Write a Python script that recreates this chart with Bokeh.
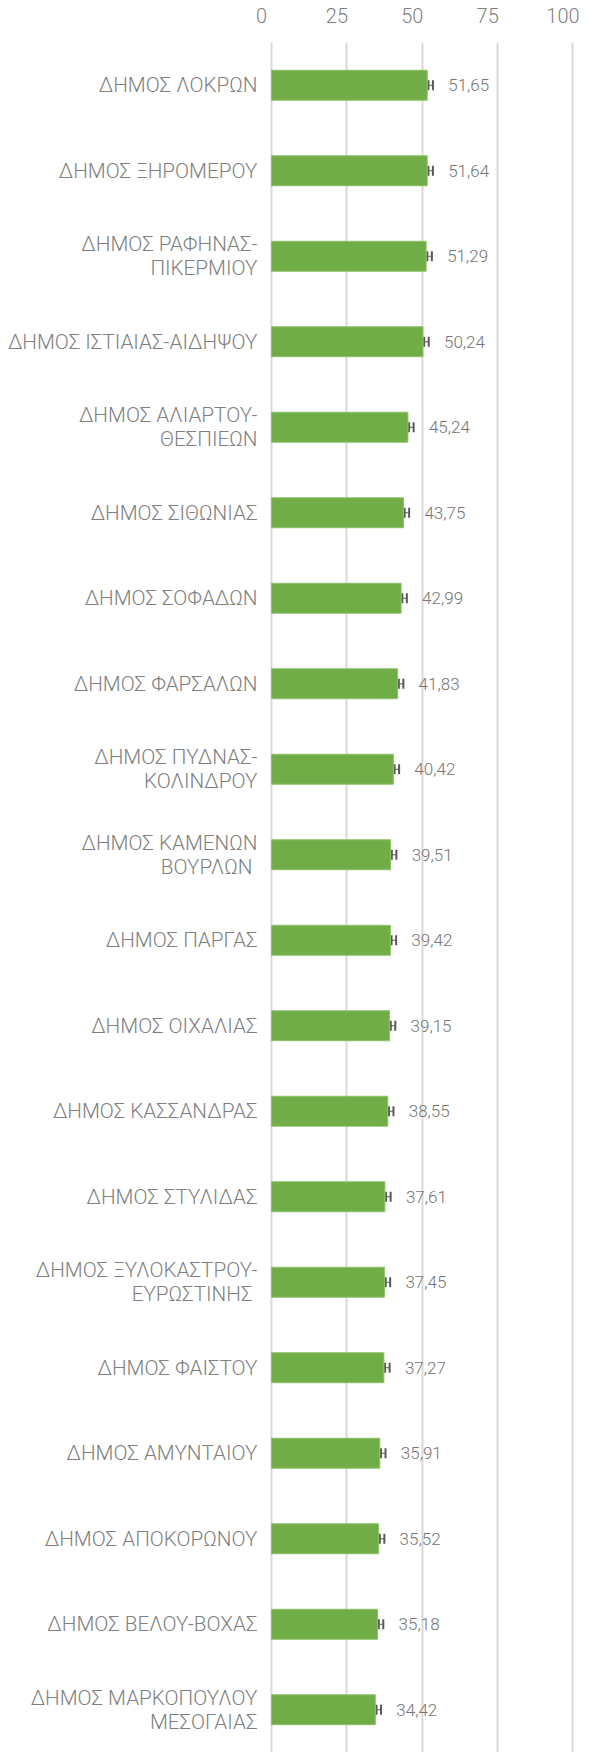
from bokeh.plotting import figure
from bokeh.models import (ColumnDataSource, FactorRange, Range1d, LinearAxis,
                          FixedTicker, Whisker, TeeHead)
from bokeh.core.properties import value
from bokeh.embed import file_html
from bokeh.resources import INLINE

categories = [
    "ΔΗΜΟΣ ΛΟΚΡΩΝ",
    "ΔΗΜΟΣ ΞΗΡΟΜΕΡΟΥ",
    "ΔΗΜΟΣ ΡΑΦΗΝΑΣ-\nΠΙΚΕΡΜΙΟΥ",
    "ΔΗΜΟΣ ΙΣΤΙΑΙΑΣ-ΑΙΔΗΨΟΥ",
    "ΔΗΜΟΣ ΑΛΙΑΡΤΟΥ-\nΘΕΣΠΙΕΩΝ",
    "ΔΗΜΟΣ ΣΙΘΩΝΙΑΣ",
    "ΔΗΜΟΣ ΣΟΦΑΔΩΝ",
    "ΔΗΜΟΣ ΦΑΡΣΑΛΩΝ",
    "ΔΗΜΟΣ ΠΥΔΝΑΣ-\nΚΟΛΙΝΔΡΟΥ",
    "ΔΗΜΟΣ ΚΑΜΕΝΩΝ\nΒΟΥΡΛΩΝ ",
    "ΔΗΜΟΣ ΠΑΡΓΑΣ",
    "ΔΗΜΟΣ ΟΙΧΑΛΙΑΣ",
    "ΔΗΜΟΣ ΚΑΣΣΑΝΔΡΑΣ",
    "ΔΗΜΟΣ ΣΤΥΛΙΔΑΣ",
    "ΔΗΜΟΣ ΞΥΛΟΚΑΣΤΡΟΥ-\nΕΥΡΩΣΤΙΝΗΣ ",
    "ΔΗΜΟΣ ΦΑΙΣΤΟΥ",
    "ΔΗΜΟΣ ΑΜΥΝΤΑΙΟΥ",
    "ΔΗΜΟΣ ΑΠΟΚΟΡΩΝΟΥ",
    "ΔΗΜΟΣ ΒΕΛΟΥ-ΒΟΧΑΣ",
    "ΔΗΜΟΣ ΜΑΡΚΟΠΟΥΛΟΥ\nΜΕΣΟΓΑΙΑΣ",
]
values = [51.65, 51.64, 51.29, 50.24, 45.24, 43.75, 42.99, 41.83, 40.42, 39.51,
          39.42, 39.15, 38.55, 37.61, 37.45, 37.27, 35.91, 35.52, 35.18, 34.42]
err_low = [0.4] * len(values)
err_high = [1.9] * len(values)
x_ticks = [0, 25, 50, 75, 100]

labels = [f"{v:.2f}".replace(".", ",") for v in values]

src = ColumnDataSource(dict(
    cat=categories, val=values, lbl=labels,
    lo=[v + a for v, a in zip(values, err_low)],
    hi=[v + b for v, b in zip(values, err_high)],
))

FONT = "Roboto Light, Roboto"
GRAY = "#7f7f7f"

p = figure(
    y_range=FactorRange(factors=list(reversed(categories))),
    x_range=Range1d(-4, 104.5),
    frame_width=327, frame_height=1710,
    min_border_left=259, min_border_top=42, min_border_right=0, min_border_bottom=0,
    x_axis_location=None,
    toolbar_location=None, output_backend="svg",
)
p.outline_line_color = None
p.background_fill_color = "white"
p.border_fill_color = "white"

p.extra_x_ranges = {"lab": Range1d(-4 + 3.3, 104.5 + 3.3)}
top = LinearAxis(x_range_name="lab", ticker=FixedTicker(ticks=x_ticks))
top.axis_line_color = None
top.major_tick_line_color = None
top.minor_tick_line_color = None
top.major_tick_out = 0
top.major_tick_in = 0
top.major_label_standoff = 20
top.major_label_text_font = FONT
top.major_label_text_font_size = "20px"
top.major_label_text_color = GRAY
p.add_layout(top, "above")

p.xgrid.ticker = FixedTicker(ticks=x_ticks)
p.xgrid.grid_line_color = "#d9d9d9"
p.xgrid.grid_line_width = 2
p.ygrid.visible = False

ya = p.yaxis[0]
ya.axis_line_color = None
ya.major_tick_line_color = None
ya.minor_tick_line_color = None
ya.major_tick_out = 0
ya.major_tick_in = 0
ya.major_label_standoff = 2
ya.major_label_text_font = FONT
ya.major_label_text_font_size = "20.7px"
ya.major_label_text_line_height = 1.0
ya.major_label_text_color = GRAY

p.hbar(y="cat", left=0, right="val", height=0.35, source=src,
       fill_color="#70ad47", line_color="#8cc168", line_width=1)

wh = Whisker(source=src, base="cat", lower="lo", upper="hi", dimension="width",
             line_color="#595959", line_width=1,
             lower_head=TeeHead(size=10, line_color="#595959", line_width=2),
             upper_head=TeeHead(size=10, line_color="#595959", line_width=2))
p.add_layout(wh)

p.text(x="val", y="cat", text="lbl", source=src, x_offset=21,
       text_baseline="middle", text_align="left",
       text_font=value(FONT), text_font_size="17px", text_color="#757575")

open("out.html", "w").write(file_html(p, INLINE))
